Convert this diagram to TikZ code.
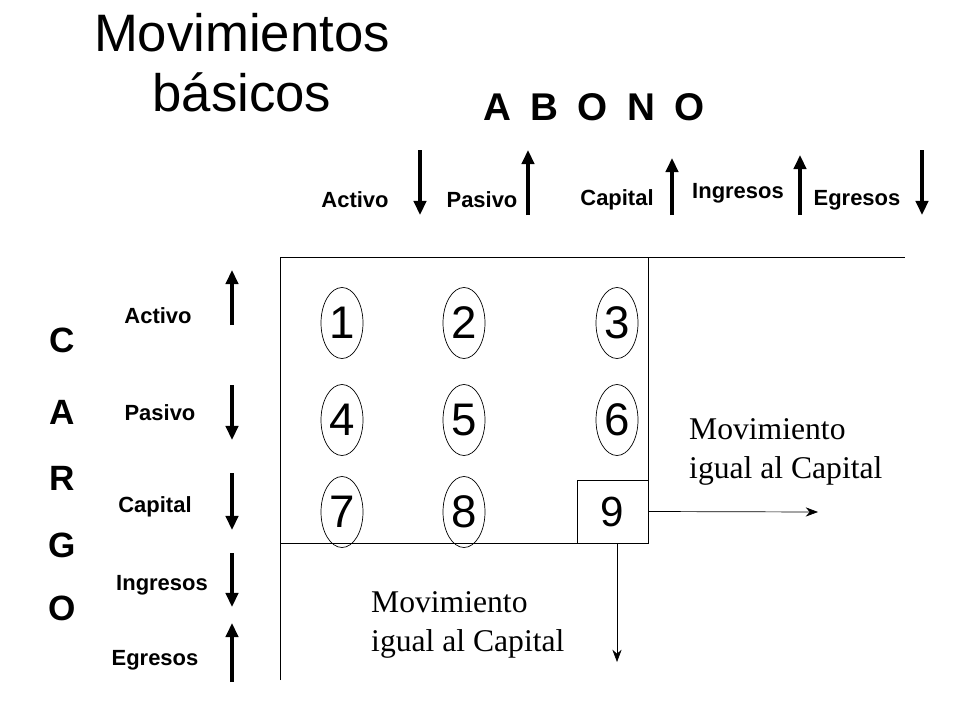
\documentclass[tikz,border=0pt]{standalone}
\usepackage{fontspec}
\setmainfont{Liberation Serif}
\setsansfont{Liberation Sans}
\usetikzlibrary{arrows.meta,shapes.geometric}
\begin{document}
\begin{tikzpicture}[x=0.02cm,y=-0.02cm,
  lbl/.style={font=\sffamily\bfseries\fontsize{12.5}{14}\selectfont},
  thk/.style={line width=2pt,-{Triangle[length=8pt,width=7pt]}},
  num/.style={ellipse,draw,inner sep=0pt,minimum width=0.84cm,minimum height=1.42cm,font=\sffamily\fontsize{26}{28}\selectfont},
  big/.style={font=\sffamily\bfseries\fontsize{20}{22}\selectfont},
  mov/.style={align=left,font=\fontsize{18}{22}\selectfont,anchor=west}]
\useasboundingbox (0,0) rectangle (960,720);
\node[font=\sffamily\fontsize{30}{34}\selectfont,align=center] (t) at (242,63) {Movimientos\\básicos};
\node[font=\sffamily\bfseries\fontsize{22}{24}\selectfont] (ab) at (594,107) {A\,\,\,B\,\,\,O\,\,\,N\,\,\,O};
% top labels
\node[lbl] (ta) at (355,200) {Activo};
\node[lbl] (tp) at (482,200) {Pasivo};
\node[lbl] (tc) at (617,200) {Capital};
\node[lbl] (ti) at (738,193) {Ingresos};
\node[lbl] (te) at (857,200) {Egresos};
\coordinate (a1) at (420,150); \coordinate (a2) at (420,215);
\coordinate (b1) at (528,215); \coordinate (b2) at (528,150);
\coordinate (c1) at (672,215); \coordinate (c2) at (672,158);
\coordinate (d1) at (800,215); \coordinate (d2) at (800,155);
\coordinate (e1) at (922,150); \coordinate (e2) at (922,215);
\draw[thk] (a1)--(a2); \draw[thk] (b1)--(b2); \draw[thk] (c1)--(c2);
\draw[thk] (d1)--(d2); \draw[thk] (e1)--(e2);
% left
\foreach \l/\y in {C/340,A/412,R/478,G/545,O/608}{\node[big] at (62,\y) {\l};}
\node[lbl] (la) at (158,316) {Activo};
\node[lbl] (lp) at (160,413) {Pasivo};
\node[lbl] (lc) at (155,507) {Capital};
\node[lbl] (li) at (162,585) {Ingresos};
\node[lbl] (le) at (155,660) {Egresos};
\coordinate (f1) at (232,325); \coordinate (f2) at (232,270);
\coordinate (g1) at (232,385); \coordinate (g2) at (232,440);
\coordinate (h1) at (232,473); \coordinate (h2) at (232,530);
\coordinate (i1) at (232,553); \coordinate (i2) at (232,607);
\coordinate (j1) at (232,682); \coordinate (j2) at (232,623);
\draw[thk] (f1)--(f2); \draw[thk] (g1)--(g2); \draw[thk] (h1)--(h2);
\draw[thk] (i1)--(i2); \draw[thk] (j1)--(j2);
% box
\draw (280,680)--(280,257)--(905,257);
\draw (648,257)--(648,543)--(280,543);
\node[draw,minimum width=1.42cm,minimum height=1.26cm,font=\sffamily\fontsize{24}{26}\selectfont] (n9) at (612.5,511.5) {9};
\node[num] (n1) at (342,323) {1};
\node[num] (n2) at (464,323) {2};
\node[num] (n3) at (617,323) {3};
\node[num] (n4) at (342,420) {4};
\node[num] (n5) at (464,420) {5};
\node[num] (n6) at (617,420) {6};
\node[num] (n7) at (342,512) {7};
\node[num] (n8) at (464,512) {8};
\coordinate (r) at (818,512);
\coordinate (s) at (617,662);
\draw[-{Stealth[length=7pt]}] (n9.east)--(r);
\draw[-{Stealth[length=7pt]}] (n9.south -| s)--(s);
\node[mov] (m1) at (683,452) {Movimiento\\igual al Capital};
\node[mov] (m2) at (365,625) {Movimiento\\igual al Capital};
\end{tikzpicture}
\end{document}
